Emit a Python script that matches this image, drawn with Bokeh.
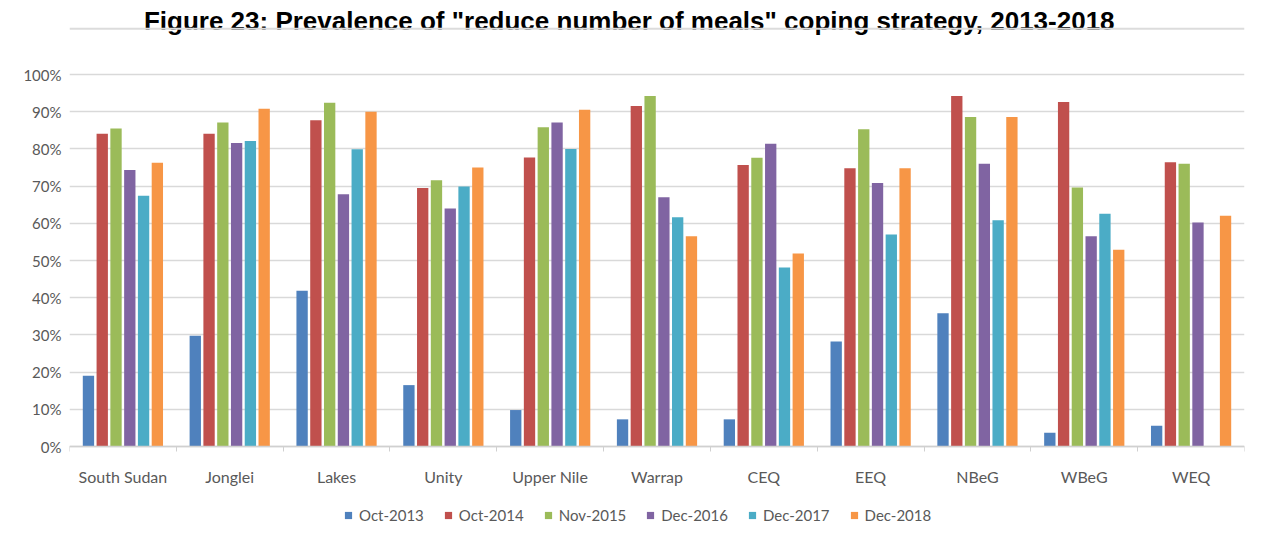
import numpy as np
from bokeh.plotting import figure
from bokeh.models import (ColumnDataSource, FixedTicker, Legend, LegendItem, Range1d,
                          PrintfTickFormatter, Span)
from bokeh.embed import file_html
from bokeh.resources import INLINE
from bokeh.core.properties import value
from bokeh.transform import dodge

title_text = 'Figure 23: Prevalence of "reduce number of meals" coping strategy, 2013-2018'
categories = ["South Sudan", "Jonglei", "Lakes", "Unity", "Upper Nile", "Warrap",
              "CEQ", "EEQ", "NBeG", "WBeG", "WEQ"]
series_names = ["Oct-2013", "Oct-2014", "Nov-2015", "Dec-2016", "Dec-2017", "Dec-2018"]
oct_2013 = [19.0, 29.8, 41.9, 16.5, 9.8, 7.3, 7.3, 28.2, 35.8, 3.7, 5.6]
oct_2014 = [84.1, 84.1, 87.7, 69.5, 77.7, 91.5, 75.7, 74.8, 94.2, 92.6, 76.4]
nov_2015 = [85.5, 87.1, 92.4, 71.6, 85.8, 94.2, 77.6, 85.3, 88.6, 69.6, 76.0]
dec_2016 = [74.3, 81.6, 67.8, 64.0, 87.1, 67.0, 81.4, 70.8, 76.0, 56.5, 60.2]
dec_2017 = [67.4, 82.1, 79.9, 69.9, 80.0, 61.6, 48.1, 57.0, 60.8, 62.6, np.nan]
dec_2018 = [76.3, 90.8, 90.0, 75.0, 90.5, 56.5, 51.9, 74.8, 88.6, 52.9, 62.0]
y_ticks = [0, 10, 20, 30, 40, 50, 60, 70, 80, 90, 100]
colors = ["#4F81BD", "#C0504D", "#9BBB59", "#8064A2", "#4BACC6", "#F79646"]

series_values = [oct_2013, oct_2014, nov_2015, dec_2016, dec_2017, dec_2018]
keys = ["s%d" % i for i in range(len(series_names))]
n = len(categories)
data = {"x": [i + 0.5 for i in range(n)], "cat": categories}
for k, v in zip(keys, series_values):
    data[k] = v
source = ColumnDataSource(data)

# frame covers the whole canvas height (0..100 spans 372px); the x axis sits at y=0
px = 3.72
y_top = (454 - 8) / px
y_bot = -(535 - 454) / px
p = figure(width=1245, height=527, x_range=Range1d(0, n), y_range=Range1d(y_bot, y_top),
           output_backend="svg", toolbar_location=None,
           min_border_left=69, min_border_right=1, min_border_top=0, min_border_bottom=0,
           outline_line_color=None)

# title and the frame line below it
p.text(x=[5.24], y=[114.3], text=[title_text], text_align="center",
       text_baseline="alphabetic", text_font=value("Liberation Sans"),
       text_font_style="bold", text_font_size="26px", text_color="black")
p.add_layout(Span(location=112.3, dimension="width", line_color="#dcdcdc", line_width=2))

slot = 0.129
bw = 0.106
legend_renderers = []
for i, (k, c) in enumerate(zip(keys, colors)):
    p.vbar(x=dodge("x", (i - 2.5) * slot, range=p.x_range), top=k, bottom=0,
           width=bw, source=source, fill_color=c, line_color=None)
    # hidden square markers of the same series, used only for the legend swatch
    legend_renderers.append(p.scatter(x="x", y=k, source=source, marker="square",
                                      fill_color=c, line_color=None, visible=False))

p.ygrid.ticker = FixedTicker(ticks=y_ticks)
p.ygrid.grid_line_color = "#d9d9d9"
p.ygrid.grid_line_width = 1.5
p.xgrid.visible = False

p.yaxis.ticker = FixedTicker(ticks=y_ticks)
p.yaxis.formatter = PrintfTickFormatter(format="%d%%")
p.yaxis.axis_line_color = None
p.yaxis.major_tick_line_color = None
p.yaxis.minor_tick_line_color = None
p.yaxis.major_tick_out = 0
p.yaxis.major_label_standoff = 8
p.yaxis.major_label_text_font = "Lato"
p.yaxis.major_label_text_font_size = "15px"
p.yaxis.major_label_text_color = "#595959"

p.xaxis.fixed_location = 0
p.xaxis.ticker = FixedTicker(ticks=[i + 0.5 for i in range(n)],
                             minor_ticks=list(range(n + 1)))
p.xaxis.major_label_overrides = {i + 0.5: c for i, c in enumerate(categories)}
p.xaxis.major_tick_line_color = None
p.xaxis.major_tick_out = 0
p.xaxis.major_tick_in = 0
p.xaxis.minor_tick_line_color = "#d0d0d0"
p.xaxis.minor_tick_out = 5
p.xaxis.minor_tick_in = 0
p.xaxis.axis_line_color = "#d0d0d0"
p.xaxis.axis_line_width = 1.5
p.xaxis.major_label_standoff = 15
p.xaxis.major_label_text_font = "Lato"
p.xaxis.major_label_text_font_size = "16px"
p.xaxis.major_label_text_color = "#595959"

legend = Legend(items=[LegendItem(label=s, renderers=[r]) for s, r in zip(series_names, legend_renderers)],
                orientation="horizontal", location=(270, 3),
                glyph_width=18, glyph_height=18, label_height=18, label_standoff=2, spacing=15,
                label_text_font="Lato", label_text_font_size="15px",
                label_text_color="#595959", border_line_color=None,
                background_fill_alpha=0, padding=0, margin=0)
p.add_layout(legend, "center")

open("out.html", "w").write(file_html(p, INLINE))
